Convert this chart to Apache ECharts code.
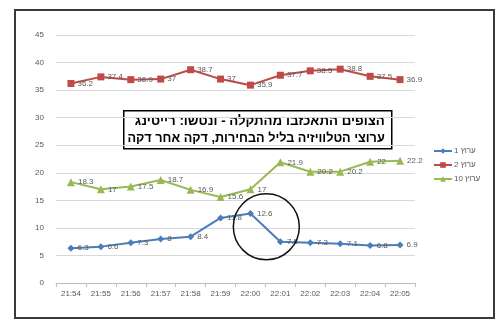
<!DOCTYPE html>
<html>
<head>
<meta charset="utf-8">
<script src="https://cdn.jsdelivr.net/npm/echarts@6/dist/echarts.min.js"></script>
<style>
  html, body { margin: 0; padding: 0; background: #fff; }
  #chart { width: 500px; height: 324px; }
</style>
</head>
<body>
<div id="chart"></div>
<script>
// Minute-by-minute ratings on election night
const minutes = ['21:54', '21:55', '21:56', '21:57', '21:58', '21:59', '22:00', '22:01', '22:02', '22:03', '22:04', '22:05'];
const seriesNames = ['ערוץ 1', 'ערוץ 2', 'ערוץ 10'];
const channel1 = [6.3, 6.6, 7.3, 8, 8.4, 11.8, 12.6, 7.5, 7.3, 7.1, 6.8, 6.9];
const channel2 = [36.2, 37.4, 36.9, 37, 38.7, 37, 35.9, 37.7, 38.5, 38.8, 37.5, 36.9];
const channel10 = [18.3, 17, 17.5, 18.7, 16.9, 15.6, 17, 21.9, 20.2, 20.2, 22, 22.2];
const yTicks = { min: 0, max: 45, step: 5 };
const headlineLines = [
  'הצופים התאכזבו מהתקלה - ונטשו: רייטינג',
  'ערוצי הטלוויזיה בליל הבחירות, דקה אחר דקה'
];
// the dip after 22:00 is ringed on the chart
const highlight = { index: 6.53, value: 10.2, radius: 33 };

const colors = ['#4a7ebb', '#be4b48', '#98b954'];
const symbols = ['diamond', 'rect', 'triangle'];
const symbolSizes = [7, 7, 8];
const values = [channel1, channel2, channel10];

const chart = echarts.init(document.getElementById('chart'), null, { renderer: 'canvas' });

const baseFont = 'Liberation Sans, Arial, sans-serif';
const labelStyle = { fontFamily: baseFont, fontSize: 8, color: '#595959' };

// both headline lines fill the same width inside the box
const headlineSizes = [13.3, 12.7];

const option = {
  animation: false,
  backgroundColor: '#fff',
  grid: { left: 56, right: 85, top: 35, bottom: 41 },
  legend: {
    orient: 'vertical',
    left: 428,
    top: 142,
    itemWidth: 18,
    itemHeight: 7,
    itemGap: 6,
    data: seriesNames,
    textStyle: { fontFamily: baseFont, fontSize: 8, color: '#595959', padding: [0, 0, 0, -3] }
  },
  xAxis: {
    type: 'category',
    data: minutes,
    boundaryGap: true,
    axisLine: { lineStyle: { color: '#bfbfbf', width: 1 } },
    axisTick: { show: true, alignWithLabel: false, length: 4, lineStyle: { color: '#bfbfbf' } },
    axisLabel: Object.assign({ margin: 7 }, labelStyle)
  },
  yAxis: {
    type: 'value',
    min: yTicks.min,
    max: yTicks.max,
    interval: yTicks.step,
    axisLine: { show: false },
    axisTick: { show: false },
    axisLabel: Object.assign({ margin: 12 }, labelStyle),
    splitLine: { lineStyle: { color: '#d9d9d9', width: 1 } }
  },
  series: seriesNames.map((name, i) => ({
    name: name,
    type: 'line',
    data: values[i],
    color: colors[i],
    symbol: symbols[i],
    symbolSize: symbolSizes[i],
    lineStyle: { width: 2, color: colors[i] },
    itemStyle: { color: colors[i] },
    label: Object.assign({ show: true, position: 'right', distance: 3 }, labelStyle)
  })),
  graphic: [
    {
      type: 'rect',
      silent: true,
      shape: { x: 15, y: 10, width: 479, height: 308 },
      style: { fill: 'none', stroke: '#3a3a3a', lineWidth: 2 },
      z: 100
    },
    {
      type: 'group',
      left: 123,
      top: 110,
      z: 100,
      children: [
        {
          type: 'rect',
          shape: { x: 0, y: 0, width: 268, height: 38 },
          style: { fill: '#fff', stroke: '#000', lineWidth: 1.5 }
        }
      ].concat(headlineLines.map((line, i) => ({
        type: 'text',
        x: 261,
        y: 11 + i * 16.5,
        style: {
          text: line,
          align: 'right',
          verticalAlign: 'middle',
          fill: '#000',
          font: 'bold ' + headlineSizes[i] + 'px "Liberation Sans", Arial, sans-serif'
        }
      })))
    }
  ]
};

chart.setOption(option);

// ring around the drop, placed in data space
const a = chart.convertToPixel({ gridIndex: 0 }, [Math.floor(highlight.index), highlight.value]);
const b = chart.convertToPixel({ gridIndex: 0 }, [Math.floor(highlight.index) + 1, highlight.value]);
const cx = a[0] + (b[0] - a[0]) * (highlight.index - Math.floor(highlight.index));
chart.setOption({
  graphic: option.graphic.concat([{
    type: 'circle',
    silent: true,
    z: 90,
    shape: { cx: cx, cy: a[1], r: highlight.radius },
    style: { fill: 'none', stroke: '#111', lineWidth: 1.5 }
  }])
});
</script>
</body>
</html>
